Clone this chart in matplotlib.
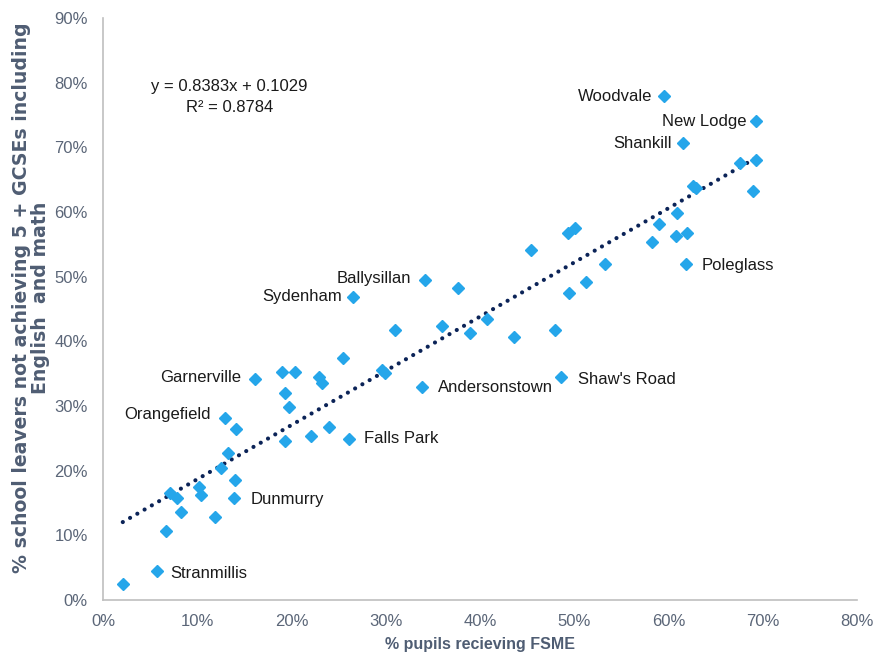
import numpy as np
import matplotlib.pyplot as plt
from matplotlib.ticker import PercentFormatter

# % pupils receiving FSME (x) and % leavers not achieving 5+ GCSEs (y)
fsme = [2.1, 5.7, 6.7, 8.3, 7.1, 7.9, 10.2, 10.4, 11.9, 12.5,
        13.3, 14.0, 13.9, 12.9, 14.1, 16.1, 19.0, 20.4, 19.3, 19.7,
        19.3, 22.9, 23.2, 25.5, 22.1, 24.0, 26.1, 29.6, 29.9, 26.5,
        34.2, 37.7, 31.0, 33.8, 36.0, 38.9, 40.7, 43.6, 45.4, 48.0,
        48.6, 49.3, 50.1, 49.4, 51.2, 53.3, 59.5, 69.3, 61.5, 67.6,
        69.3, 69.0, 62.6, 62.9, 60.9, 59.0, 58.3, 60.8, 62.0, 61.9]
not_achieving = [2.5, 4.5, 10.7, 13.6, 16.6, 15.8, 17.5, 16.3, 12.8, 20.4,
                 22.7, 18.5, 15.8, 28.1, 26.4, 34.2, 35.2, 35.2, 32.0, 29.8,
                 24.6, 34.5, 33.6, 37.4, 25.3, 26.8, 24.9, 35.5, 35.1, 46.9,
                 49.5, 48.2, 41.8, 33.0, 42.3, 41.3, 43.5, 40.6, 54.1, 41.8,
                 34.5, 56.8, 57.5, 47.4, 49.2, 51.9, 77.9, 74.0, 70.6, 67.5,
                 68.1, 63.2, 64.0, 63.7, 59.8, 58.2, 55.3, 56.3, 56.8, 52.0]
names = ["", "Stranmillis", "", "", "", "", "", "", "", "",
         "", "", "Dunmurry", "Orangefield", "", "Garnerville", "", "", "", "",
         "", "", "", "", "", "", "Falls Park", "", "", "Sydenham",
         "Ballysillan", "", "", "Andersonstown", "", "", "", "", "", "",
         "Shaw's Road", "", "", "", "", "", "Woodvale", "New Lodge", "Shankill", "",
         "", "", "", "", "", "", "", "", "", "Poleglass"]

slope = 0.8383
intercept = 0.1029
r2 = 0.8784

# label placement (offset in points, horizontal alignment)
label_pos = {
    "Stranmillis": (10, -2, "left"), "Dunmurry": (12, -1, "left"),
    "Orangefield": (-10, 3, "right"), "Garnerville": (-10, 1, "right"),
    "Falls Park": (11, 0, "left"), "Sydenham": (-8, 0, "right"),
    "Ballysillan": (-10, 1, "right"), "Andersonstown": (12, -1, "left"),
    "Shaw's Road": (12, -2, "left"), "Woodvale": (-8, 0, "right"),
    "New Lodge": (-7, 0, "right"), "Shankill": (-8, 0, "right"),
    "Poleglass": (11, -1, "left"),
}

x = np.array(fsme) / 100
y = np.array(not_achieving) / 100

fig = plt.figure(figsize=(8.75, 6.62), dpi=100)
ax = fig.add_axes([103 / 875, 62 / 662, 754 / 875, 582 / 662])

ax.plot(x, y, linestyle="none", marker="D", ms=5.8, color="#25a6ea", zorder=3)

xt = np.array([x.min(), x.max()])
ax.plot(xt, slope * xt + intercept, color="#0b2357", lw=3,
        linestyle=(0, (0.01, 2.0)), dash_capstyle="round", zorder=2)

for xi, yi, nm in zip(x, y, names):
    if nm:
        dx, dy, ha = label_pos[nm]
        ax.annotate(nm, (xi, yi), xytext=(dx, dy), textcoords="offset points",
                    ha=ha, va="center", fontsize=12, color="#1a1a1a",
                    family="Liberation Sans")

ax.text(0.168, 0.865, f"y = {slope}x + {intercept}\nR² = {r2}",
        transform=ax.transAxes, ha="center", va="center", fontsize=12,
        color="#1a1a1a", family="Liberation Sans", linespacing=1.5)

ax.set_xlim(0, 0.8)
ax.set_ylim(0, 0.9)
ax.set_xticks(np.arange(0, 0.81, 0.1))
ax.set_yticks(np.arange(0, 0.91, 0.1))
ax.xaxis.set_major_formatter(PercentFormatter(1.0, decimals=0))
ax.yaxis.set_major_formatter(PercentFormatter(1.0, decimals=0))
ax.tick_params(length=0, labelsize=12, labelcolor="#5b6678")
ax.tick_params(axis="x", pad=10)
ax.tick_params(axis="y", pad=11)
for lab in ax.get_xticklabels() + ax.get_yticklabels():
    lab.set_family("Liberation Sans")

for side in ["top", "right"]:
    ax.spines[side].set_visible(False)
for side in ["left", "bottom"]:
    ax.spines[side].set_color("#bfbfbf")
    ax.spines[side].set_linewidth(1.2)

ax.set_xlabel("% pupils recieving FSME", fontsize=11.5, fontweight="bold",
              color="#4f5d73", family="Liberation Sans", labelpad=6)
fig.text(0.035, 0.55, "% school leavers not achieving 5 + GCSEs including\nEnglish  and math",
         rotation=90, ha="center", va="center", fontsize=13.6, fontweight="bold",
         color="#4f5d73", family="DejaVu Sans", linespacing=1.0)

fig.savefig("out.png", dpi=100)
